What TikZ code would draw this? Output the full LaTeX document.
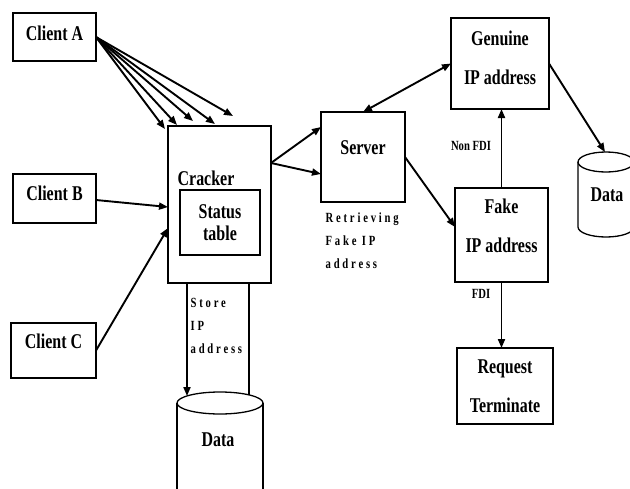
\documentclass[tikz,border=0pt]{standalone}
\usepackage{fontspec}
\setmainfont{Liberation Serif}[FakeStretch=0.76]
\newfontfamily\spacedfont{Liberation Serif}[FakeStretch=0.76,LetterSpace=20]
\usetikzlibrary{arrows.meta}

\begin{document}
\begin{tikzpicture}[x=1pt,y=-1pt,line width=1.3pt,
    arr/.style={arrows={-Triangle[length=9pt,width=7pt]}},
    dbl/.style={arrows={Triangle[length=9pt,width=7pt]-Triangle[length=9pt,width=7pt]}},
    txt/.style={font=\bfseries\fontsize{21}{39}\selectfont},
    small/.style={font=\bfseries\fontsize{14}{16}\selectfont,inner sep=0pt},
    spaced/.style={font=\spacedfont\bfseries\fontsize{14}{23}\selectfont,align=left,anchor=north west,inner sep=0pt}]
  \useasboundingbox (0,0) rectangle (630,488);
  \begin{scope}[every node/.style={draw,rectangle,inner sep=0pt,outer sep=0pt,align=center,txt}]
    \node (A) [minimum width=83pt,minimum height=48pt,text depth=8pt] at (54.5,37) {Client A};
    \node (B) [minimum width=83pt,minimum height=49pt,text depth=11pt] at (54.5,198.5) {Client B};
    \node (C) [minimum width=85pt,minimum height=55pt,text depth=19pt] at (53.5,350.5) {Client C};
    \node (Cr) [minimum width=103pt,minimum height=157pt] at (219.5,204.5) {};
    \node (St) [minimum width=80pt,minimum height=65pt,font=\bfseries\fontsize{21}{22}\selectfont] at (220,222.5) {Status\\table};
    \node (Sv) [minimum width=84pt,minimum height=90pt,text depth=18pt] at (363,157) {Server};
    \node (Gn) [minimum width=98pt,minimum height=91pt,text depth=12pt] at (500,63.5) {Genuine\\IP address};
    \node (Fk) [minimum width=93pt,minimum height=94pt,text depth=18pt] at (501.5,235) {Fake\\IP address};
    \node (Rq) [minimum width=96pt,minimum height=76pt] at (505,386) {Request\\Terminate};
  \end{scope}
  \node (CrT) [txt] at (206,178) {Cracker};
  \node (D1) [txt] at (218,440) {Data};
  \node (D2) [txt] at (607,195) {Data};
  \draw (220,403) ellipse [x radius=43,y radius=11];
  \draw (177,403) -- (177,500) (263,403) -- (263,500);
  \draw (606,162) ellipse [x radius=28,y radius=10];
  \draw (578,162) -- (578,227) arc [start angle=180,end angle=0,x radius=28,y radius=10] -- (634,162);
  \node (Rt) [spaced] at (325,212) {Retrieving\\Fake IP\\address};
  \node (Sa) [spaced] at (190,298) {Store\\IP\\address};
  \node (NF) [small] at (471,146) {Non FDI};
  \node (FD) [small] at (481,294) {FDI};
  \foreach \n/\x/\y in {1/165/129,2/177/125,3/193/121,4/215/124,5/233/116}
    \coordinate (a\n) at (\x,\y);
  \coordinate (d1) at (187,396);
  \coordinate (d2) at (249,395);
  \coordinate (d3) at (605,152);
  \begin{scope}[every edge/.style={draw=black,line width=1.9pt,arr}]
    \foreach \n in {1,...,5}
      \path (A.east) edge (a\n);
    \path ([yshift=-1.5pt]B.east) edge ([yshift=-2.5pt]Cr.west);
    \path (C.east) edge ([yshift=-23.5pt]Cr.west);
    \path ([yshift=41.5pt]Cr.east) edge ([yshift=30pt]Sv.west);
    \path ([yshift=41.5pt]Cr.east) edge ([yshift=-17pt]Sv.west);
    \path (Sv.north) edge[dbl] (Gn.west);
    \path (Sv.east) edge ([yshift=8pt]Fk.west);
    \path (Fk.north) edge (Fk.north |- Gn.south);
    \path (Gn.east) edge (d3);
    \path (Fk.south) edge (Fk.south |- Rq.north);
    \path (Cr.south -| d1) edge (d1);
    \path (Cr.south -| d2) edge[arrows=-] (d2);
  \end{scope}
\end{tikzpicture}
\end{document}
